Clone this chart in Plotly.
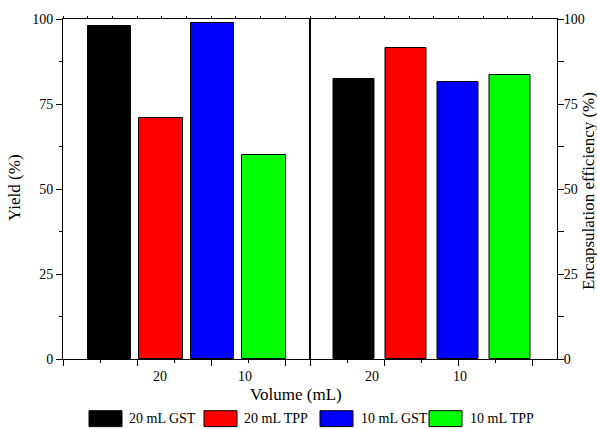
import plotly.graph_objects as go

# ---------------- data ----------------
groups = ["20 mL GST", "20 mL TPP", "10 mL GST", "10 mL TPP"]
colors = ["#000000", "#FF0000", "#0000FF", "#00FF00"]
yield_pct = [98.0, 70.8, 98.8, 60.0]
ee_pct = [82.4, 91.5, 81.6, 83.6]
xtick_labels = ["20", "10"]
y_ticks = [0, 25, 50, 75, 100]

# ---------------- layout constants ----------------
W, H = 597, 429
ML, MR, MT, MB = 63, 40, 17, 70
PW, PH = W - ML - MR, H - MT - MB
FONT = "Liberation Serif, Times New Roman, serif"
XR = [0, 6.66]
TITLE_SIZE = 17

def pxx(x):
    return (x - ML) / PW

def pxy(y):
    return (H - MB - y) / PH

# bar centers (axis units) for each panel
left_pos = [1.26 + 1.39 * i for i in range(4)]
right_pos = [1.18 + 1.403 * i for i in range(4)]
left_lab_pos = [2.61, 4.92]
right_lab_pos = [1.67, 4.03]

fig = go.Figure()
fig.add_trace(go.Bar(x=left_pos, y=yield_pct, width=1.17, marker=dict(color=colors, line=dict(color="#000", width=1)),
                     xaxis="x", yaxis="y", showlegend=False))
fig.add_trace(go.Bar(x=right_pos, y=ee_pct, width=1.1, marker=dict(color=colors, line=dict(color="#000", width=1)),
                     xaxis="x2", yaxis="y2", showlegend=False))
# dummy traces for top tick axes
fig.add_trace(go.Scatter(x=[], y=[], xaxis="x3", yaxis="y", showlegend=False))
fig.add_trace(go.Scatter(x=[], y=[], xaxis="x4", yaxis="y2", showlegend=False))

xcommon = dict(range=XR, showline=True, linecolor="#000", linewidth=1, mirror=True,
               tickmode="array", tickvals=[0, 2, 4, 6], ticks="outside", ticklen=6, tickcolor="#000",
               showticklabels=False, showgrid=False, zeroline=False,
               minor=dict(dtick=1, tick0=0, ticks="outside", ticklen=3, tickcolor="#000", showgrid=False))
topcommon = dict(range=XR, side="top", showline=False, tickmode="linear", tick0=0, dtick=2 / 3,
                 ticks="outside", ticklen=2, tickcolor="#000", showticklabels=False, showgrid=False, zeroline=False)
ycommon = dict(range=[0, 100], showline=True, linecolor="#000", linewidth=1, mirror=True,
               tickmode="array", tickvals=y_ticks, ticks="outside", tickcolor="#000",
               showgrid=False, zeroline=False, tickfont=dict(family=FONT, size=14, color="#000"))

fig.update_layout(
    width=W, height=H, margin=dict(l=ML, r=MR, t=MT, b=MB),
    paper_bgcolor="white", plot_bgcolor="white",
    font=dict(family=FONT, size=14, color="#000"),
    bargap=0,
    xaxis=dict(domain=[0, 0.499], anchor="y", **xcommon),
    xaxis2=dict(domain=[0.501, 1], anchor="y2", **xcommon),
    xaxis3=dict(overlaying="x", anchor="y", **topcommon),
    xaxis4=dict(overlaying="x2", anchor="y2", **topcommon),
    yaxis=dict(anchor="x", side="left", ticklen=6,
               minor=dict(dtick=12.5, tick0=0, ticks="outside", ticklen=3, tickcolor="#000", showgrid=False),
               **ycommon),
    yaxis2=dict(anchor="x2", side="right", ticklen=3,
                minor=dict(dtick=12.5, tick0=0, ticks="outside", ticklen=6, tickcolor="#000", showgrid=False),
                **ycommon),
)

ann = []
for lab, p in zip(xtick_labels, left_lab_pos):
    ann.append(dict(x=p, y=pxy(377), xref="x", yref="paper", text=lab, showarrow=False,
                    xanchor="center", yanchor="middle", font=dict(family=FONT, size=14)))
for lab, p in zip(xtick_labels, right_lab_pos):
    ann.append(dict(x=p, y=pxy(377), xref="x2", yref="paper", text=lab, showarrow=False,
                    xanchor="center", yanchor="middle", font=dict(family=FONT, size=14)))
ann.append(dict(x=pxx(296), y=pxy(395), xref="paper", yref="paper", text="Volume (mL)", showarrow=False,
                xanchor="center", yanchor="middle", font=dict(family=FONT, size=TITLE_SIZE)))
ann.append(dict(x=pxx(14), y=pxy(187), xref="paper", yref="paper", text="Yield (%)", textangle=-90, showarrow=False,
                xanchor="center", yanchor="middle", font=dict(family=FONT, size=TITLE_SIZE)))
ann.append(dict(x=pxx(589), y=pxy(190), xref="paper", yref="paper", text="Encapsulation efficiency (%)",
                textangle=-90, showarrow=False, xanchor="center", yanchor="middle",
                font=dict(family=FONT, size=TITLE_SIZE)))

# manual legend
leg_box_x = [89, 204, 320, 429]
leg_box_w = 33
leg_text_x = [127, 242, 359, 468]
shapes = []
for i, g in enumerate(groups):
    shapes.append(dict(type="rect", xref="paper", yref="paper",
                       x0=pxx(leg_box_x[i]), x1=pxx(leg_box_x[i] + leg_box_w),
                       y0=pxy(411), y1=pxy(427), fillcolor=colors[i], line=dict(color="#000", width=1)))
    ann.append(dict(x=pxx(leg_text_x[i]), y=pxy(419), xref="paper", yref="paper", text=g, showarrow=False,
                    xanchor="left", yanchor="middle", font=dict(family=FONT, size=14)))

fig.update_layout(annotations=ann, shapes=shapes)
fig.write_html("out.html")
